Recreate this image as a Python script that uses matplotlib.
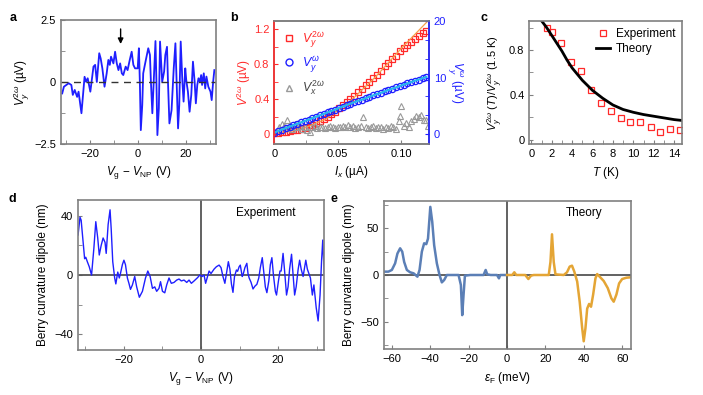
import matplotlib.pyplot as plt
from matplotlib.ticker import MultipleLocator

plt.rcParams['font.family'] = ['Liberation Sans', 'DejaVu Sans']
plt.rcParams['mathtext.fontset'] = 'custom'
plt.rcParams['mathtext.rm'] = 'Liberation Sans'
plt.rcParams['mathtext.it'] = 'Liberation Sans:italic'
plt.rcParams['font.size'] = 8
plt.rcParams['xtick.direction'] = 'in'
plt.rcParams['ytick.direction'] = 'in'
plt.rcParams['xtick.major.size'] = 3
plt.rcParams['ytick.major.size'] = 3
plt.rcParams['xtick.minor.size'] = 3
plt.rcParams['ytick.minor.size'] = 3

# --- a: V_y^{2w} vs gate voltage
a_vg = [-31.5, -30.8, -28.8, -27.7, -27.1, -26.3, -25.3, -24.7, -23.5, -22.2, -21.6, -20.9,
        -19.8, -18.5, -17.8, -17.1, -16.1, -15.5, -14.8, -13.9, -13.0, -12.3, -11.7, -11.2,
        -10.2, -9.5, -8.8, -8.1, -7.4, -6.7, -6.1, -5.1, -4.3, -3.4, -2.6, -1.9, -1.2, -0.1,
        0.4, 0.8, 1.2, 1.8, 2.2, 2.6, 3.3, 4.3, 5.0, 5.4, 6.0, 6.6, 7.3, 7.7, 8.1, 8.7, 9.2,
        10.1, 10.9, 11.4, 12.1, 12.5, 13.1, 14.0, 14.9, 15.6, 16.1, 16.7, 17.2, 17.8, 18.5,
        19.0, 19.7, 20.1, 20.8, 21.5, 22.2, 22.9, 23.6, 24.1, 24.7, 25.2, 25.8, 26.3, 26.7,
        27.4, 28.0, 28.5, 29.3, 30.2, 30.7, 31.3, 31.8]
a_v = [-0.46, -0.19, -0.05, -0.12, -0.52, -0.32, -0.60, -0.39, -1.26, 0.21, 0.01, 0.15,
       -0.39, 0.62, 0.69, 0.0, 1.16, 0.95, 0.55, -0.19, 0.35, 0.89, 0.69, 1.02,
       0.75, 1.22, 0.75, 0.48, 0.75, 0.35, 0.28, 0.62, 0.48, 0.89, 1.22, 0.69, 0.55, 0.55,
       1.36, 0.01, -1.94, -0.93, 0.35, 0.55, 0.89, 1.36, 1.09, 0.01, -1.26, 0.08, 1.65, 0.01,
       -2.14, -1.06, 1.63, 0.01, 0.42, 1.09, 1.42, 0.01, -1.67, -1.13, 0.55, 1.56, 0.01,
       -1.87, -0.93, 1.63, 0.01, -0.79, 0.55, 0.08, -0.39, -1.20, -0.52, 0.82, 0.01, -0.86,
       -0.12, 0.15, 0.01, 0.28, -0.12, 0.35, -0.26, 0.22, -0.19, -0.39, -0.73, 0.01, 0.48]

# --- b: voltages vs current
b_i = [0.000, 0.003, 0.006, 0.009, 0.012, 0.015, 0.018, 0.021, 0.024, 0.027, 0.030, 0.033,
       0.036, 0.039, 0.042, 0.045, 0.048, 0.051, 0.054, 0.057, 0.060, 0.063, 0.066, 0.069,
       0.072, 0.075, 0.078, 0.081, 0.084, 0.087, 0.090, 0.093, 0.096, 0.099, 0.102, 0.105,
       0.108, 0.111, 0.114, 0.117, 0.120]
b_vy2w = [0.02, 0.02, 0.025, 0.03, 0.035, 0.045, 0.055, 0.065, 0.075, 0.09, 0.11, 0.13,
          0.15, 0.175, 0.20, 0.23, 0.26, 0.30, 0.34, 0.37, 0.40, 0.44, 0.48, 0.52,
          0.56, 0.60, 0.64, 0.68, 0.73, 0.78, 0.82, 0.86, 0.90, 0.95, 0.99, 1.02,
          1.06, 1.09, 1.12, 1.16, 1.18]
b_vyw = [0.3, 0.6, 0.85, 1.1, 1.35, 1.6, 1.85, 2.1, 2.35, 2.6, 2.85, 3.1,
         3.35, 3.6, 3.85, 4.1, 4.35, 4.65, 4.9, 5.15, 5.4, 5.65, 5.9, 6.1,
         6.35, 6.6, 6.85, 7.1, 7.3, 7.55, 7.8, 8.05, 8.25, 8.5, 8.75, 8.95,
         9.2, 9.45, 9.65, 9.9, 10.1]
b_fit_i = [0.0, 0.02, 0.04, 0.06, 0.08, 0.10, 0.122]
b_fit_v = [0.01, 0.05, 0.17, 0.38, 0.66, 0.98, 1.31]
b_tri_i = [0.004, 0.006, 0.008, 0.010, 0.012, 0.014, 0.016, 0.018, 0.020, 0.022, 0.024, 0.026,
           0.028, 0.030, 0.032, 0.034, 0.036, 0.038, 0.040, 0.042, 0.044, 0.046, 0.048, 0.050,
           0.052, 0.054, 0.056, 0.058, 0.060, 0.062, 0.064, 0.066, 0.068, 0.070, 0.072, 0.074,
           0.076, 0.078, 0.080, 0.082, 0.084, 0.086, 0.088, 0.090, 0.092, 0.094, 0.096, 0.098,
           0.099, 0.100, 0.102, 0.104, 0.106, 0.108, 0.110, 0.112, 0.114, 0.116, 0.118, 0.120, 0.121]
b_tri_v = [0.08, 0.12, 0.10, 0.17, 0.09, 0.06, 0.12, 0.08, 0.10, 0.06, 0.09, 0.05,
           0.03, 0.08, 0.10, 0.07, 0.09, 0.08, 0.07, 0.09, 0.10, 0.08, 0.07, 0.09,
           0.08, 0.10, 0.09, 0.11, 0.08, 0.10, 0.07, 0.09, 0.10, 0.20, 0.09, 0.07,
           0.08, 0.10, 0.07, 0.09, 0.08, 0.06, 0.09, 0.07, 0.10, 0.08, 0.06, 0.15,
           0.21, 0.33, 0.10, 0.13, 0.08, 0.15, 0.18, 0.21, 0.20, 0.22, 0.16, 0.17, 0.10]

# --- c: temperature dependence
c_t = [1.5, 2.0, 2.9, 3.9, 4.9, 5.9, 6.8, 7.8, 8.8, 9.7, 10.7, 11.7, 12.6, 13.6, 14.6]
c_exp = [1.0, 0.96, 0.86, 0.69, 0.61, 0.44, 0.33, 0.26, 0.19, 0.16, 0.16, 0.11, 0.07, 0.10, 0.09]
c_th_t = [1.0, 1.5, 2.0, 2.5, 3.0, 3.5, 4.0, 5.0, 6.0, 7.0, 8.0, 9.0, 10.0, 11.0, 12.0, 13.0, 14.0, 15.0]
c_th = [1.06, 1.0, 0.93, 0.86, 0.79, 0.71, 0.64, 0.53, 0.44, 0.37, 0.31, 0.27, 0.245, 0.225,
        0.21, 0.195, 0.18, 0.17]

# --- d: experimental Berry curvature dipole
d_vg = [-31.9, -31.4, -31.1, -30.5, -30.2, -29.9, -29.5, -29.0, -28.4, -27.8, -27.3, -26.8,
        -26.4, -25.9, -25.4, -24.9, -24.6, -24.1, -23.6, -23.3, -22.9, -22.4, -22.1, -21.6,
        -21.2, -20.9, -20.4, -20.0, -19.6, -19.1, -18.7, -18.3, -17.8, -17.2, -16.7, -16.0,
        -15.2, -14.4, -13.8, -13.2, -12.6, -12.0, -11.5, -10.9, -10.5, -10.0, -9.4, -8.9,
        -8.3, -7.7, -7.0, -6.3, -5.7, -5.1, -4.4, -3.7, -3.1, -2.5, -1.8, -0.9, -0.3,
        0.3, 0.8, 1.2, 1.6, 2.1, 2.6, 3.4, 4.0, 4.7, 5.2, 5.7, 6.2, 6.6, 7.1, 7.5, 7.9,
        8.3, 8.7, 9.2, 9.5, 9.9, 10.2, 10.7, 10.9, 11.4, 11.9, 12.2, 12.5, 13.0, 13.5,
        14.0, 14.5, 15.0, 15.4, 15.9, 16.3, 16.7, 17.1, 17.6, 18.0, 18.4, 18.8, 19.3, 19.6,
        20.1, 20.5, 20.8, 21.3, 21.7, 22.2, 22.6, 23.0, 23.5, 23.9, 24.3, 24.7, 25.2, 25.6,
        26.0, 26.5, 26.8, 27.2, 27.6, 28.0, 28.4, 28.9, 29.3, 29.9, 30.4, 30.9, 31.3, 31.6, 32.0]
d_bcd = [27, 39, 37, 20, 11, 12, 9, 5.6, 0, 18, 36, 25,
         13.5, 20, 25, 22, 14.6, 34, 44, 31, 9, -2, -6, 2,
         -2, 1, 7, 10, 7, -2, -5.6, -9.7, -6.7, -1, -7.9, -15,
         -11, -2, 2.7, -1, -9, -8, -11, -9, -4.5, -11, -12, -6.7,
         -2, -5.6, -5, -3.4, -2.7, -4, -3.4, -5, -3.4, -5.6, -4, -1.8, 0,
         -1, 0, -5.6, -2, 2.7, 1, 4, 5.6, 6.7, 5, -1, -5.6, 1, 9, 4, -6,
         -11.7, -1, 3.4, 2.5, 5.6, 6.7, -1, 0, 5, 7.9, 1, -2, -5, -9.4,
         -7.5, -6.3, -2, 5, 11.7, 2, -8, -11.9, -4, 7, 11.7, 0, -11, -13.5,
         -4, 2.7, 2.7, 14.6, 2.7, -13.5, -8, 4, 14, 0, -13.5, -8, 3.6, 10,
         4, -1, 3.6, 10, 4, 1, -2, -13.5, -6.7, -22, -31, -13.5, 10, 23.6, 0]

# --- e: theoretical Berry curvature dipole
e_neg_ef = [-63.9, -61.7, -59.9, -58.2, -57.0, -55.6, -54.5, -53.5, -52.1, -50.4, -48.6, -46.6,
            -45.5, -44.3, -43.1, -42.0, -41.1, -39.9, -38.9, -37.9, -36.5, -35.1, -33.9, -32.7,
            -31.3, -27.8, -25.2, -24.0, -23.3, -22.6, -21.9, -19.1, -12.2, -11.1, -10.3, -8.5,
            -5.2, -4.2, -3.5, -0.9, 0.0]
e_neg_bcd = [3.6, 3.6, 5.4, 12.5, 23, 28.6, 25, 14, 5.4, 2.9, 1.8, -1.8,
             5.4, 25, 34, 33, 39, 73, 57, 32, 12.5, 0, -7.9, -5.4,
             0, 0, 0, -10.7, -43, -21, -0.7, 0, 0, 5.4, 0.7, 0,
             0, -3.6, 0, 0, 0]
e_pos_ef = [0.0, 2.7, 3.8, 4.8, 9.5, 11.1, 12.5, 13.9, 21.7, 22.6, 23.4, 24.3, 25.2, 29.5,
            31.2, 32.6, 33.8, 35.0, 36.5, 37.8, 39.1, 39.9, 40.8, 41.7, 42.7, 43.7, 44.8,
            46.0, 46.9, 48.2, 50.3, 52.4, 54.3, 55.5, 56.9, 58.3, 59.9, 62.1, 64.2]
e_pos_bcd = [0, 0, 2.9, 0, 0, -4.3, -0.7, 0, 0, 14, 43.6, 14, 0.7, 0,
             2.9, 9, 10, 3.6, -7, -28.6, -57, -71, -57, -36, -31, -34, -21,
             -3.6, 1, -1.8, -6.4, -14, -25, -28.6, -21, -9, -4.3, -2.9, -2.5]

grey = '#808080'
red = '#ff2a2a'
blue = '#1f1fff'

fig = plt.figure(figsize=(7.03, 3.95), dpi=100)

def frame(ax, color=grey):
    for s in ax.spines.values():
        s.set_color(color)
        s.set_linewidth(1.2)
    ax.tick_params(which='both', color=grey)

# panel a
ax_a = fig.add_axes([0.0868, 0.6354, 0.2205, 0.314])
ax_a.plot(a_vg, a_v, color=blue, lw=1.3)
ax_a.axhline(0, color='#333333', lw=1, ls=(0, (5, 4)))
ax_a.annotate('', xy=(-7.2, 1.42), xytext=(-7.2, 2.25),
              arrowprops=dict(arrowstyle='-|>', color='black', lw=1, mutation_scale=8))
ax_a.set_xlim(-32, 32.5)
ax_a.set_ylim(-2.5, 2.5)
ax_a.xaxis.set_major_locator(MultipleLocator(20))
ax_a.xaxis.set_minor_locator(MultipleLocator(10))
ax_a.set_yticks([-2.5, 0, 2.5])
ax_a.set_yticklabels(['−2.5', '0', '2.5'])
ax_a.yaxis.set_minor_locator(MultipleLocator(1.25))
ax_a.set_xlabel(r'$V_\mathrm{g}$ − $V_\mathrm{NP}$ (V)', fontsize=8.5)
ax_a.set_ylabel(r'$V_y^{2\omega}$ (µV)', fontsize=8.5, labelpad=2)
frame(ax_a)

# panel b
ax_b = fig.add_axes([0.3902, 0.6354, 0.220, 0.3122])
ax_b2 = ax_b.twinx()
ax_b.plot(b_i, b_vy2w, 's', ms=4.5, mfc='none', mec=red, mew=0.9)
ax_b.plot(b_fit_i, b_fit_v, color='#f5a04a', lw=0.9)
ax_b.plot(b_tri_i, b_tri_v, '^', ms=4.5, mfc='none', mec='#999999', mew=0.8)
ax_b2.plot(b_i, b_vyw, 'o', ms=4.5, mfc='none', mec=blue, mew=0.9)
ax_b2.plot(b_i, b_vyw, color='#29b5ee', lw=1.6)
ax_b.set_xlim(0, 0.122)
ax_b.set_ylim(-0.11, 1.3)
ax_b2.set_ylim(-1.7, 20)
ax_b.set_xticks([0, 0.05, 0.1])
ax_b.set_xticklabels(['0', '0.05', '0.10'])
ax_b.xaxis.set_minor_locator(MultipleLocator(0.025))
ax_b.set_yticks([0, 0.4, 0.8, 1.2])
ax_b.set_yticklabels(['0', '0.4', '0.8', '1.2'])
ax_b.yaxis.set_minor_locator(MultipleLocator(0.2))
ax_b2.set_yticks([0, 10, 20])
ax_b2.yaxis.set_minor_locator(MultipleLocator(10 / 3))
for s in list(ax_b.spines.values()) + list(ax_b2.spines.values()):
    s.set_color(grey)
    s.set_linewidth(1.2)
ax_b2.spines['left'].set_color(red)
ax_b2.spines['right'].set_color(blue)
ax_b.tick_params(axis='x', which='both', color=grey)
ax_b.tick_params(axis='y', which='both', color=red, labelcolor=red)
ax_b2.tick_params(axis='y', which='both', color=blue, labelcolor=blue)
ax_b.set_xlabel(r'$I_x$ (µA)', fontsize=8.5)
ax_b.set_ylabel(r'$V^{2\omega}$ (µV)', color=red, fontsize=8.5, labelpad=1)
ax_b2.set_ylabel(r'$V_y^{\omega}$ (µV)', color=blue, fontsize=8.5, rotation=270, labelpad=14)
hb = [
    plt.Line2D([], [], ls='none', marker='s', ms=5, mfc='none', mec=red, mew=1),
    plt.Line2D([], [], ls='none', marker='o', ms=5, mfc='none', mec=blue, mew=1),
    plt.Line2D([], [], ls='none', marker='^', ms=5, mfc='none', mec='#999999', mew=1),
]
leg = ax_b.legend(hb, [r'$V_y^{2\omega}$', r'$V_y^{\omega}$', r'$V_x^{2\omega}$'],
                  loc='upper left', frameon=False, fontsize=9, handlelength=1,
                  handletextpad=0.5, labelspacing=0.35, borderaxespad=0.3)
for t, col in zip(leg.get_texts(), [red, blue, '#444444']):
    t.set_color(col)

# panel c
ax_c = fig.add_axes([0.7529, 0.6347, 0.2176, 0.3127])
ax_c.plot(c_t, c_exp, 's', ms=5, mfc='none', mec=red, mew=0.9, label='Experiment')
ax_c.plot(c_th_t, c_th, color='black', lw=2, label='Theory')
ax_c.set_xlim(-0.2, 14.8)
ax_c.set_ylim(-0.04, 1.06)
ax_c.xaxis.set_major_locator(MultipleLocator(2))
ax_c.xaxis.set_minor_locator(MultipleLocator(1))
ax_c.set_yticks([0, 0.4, 0.8])
ax_c.set_yticklabels(['0', '0.4', '0.8'])
ax_c.yaxis.set_minor_locator(MultipleLocator(0.2))
ax_c.set_xlabel(r'$T$ (K)', fontsize=8.5)
ax_c.set_ylabel(r'$V_y^{2\omega}$ ($T$)/$V_y^{2\omega}$ (1.5 K)', fontsize=8, labelpad=3)
ax_c.legend(loc='upper right', frameon=False, fontsize=8.5, handlelength=1.2,
            handletextpad=0.5, labelspacing=0.3, borderaxespad=0.2)
frame(ax_c)

# panel d
ax_d = fig.add_axes([0.1105, 0.1139, 0.3508, 0.3797])
ax_d.axhline(0, color='#555555', lw=1.3)
ax_d.axvline(0, color='#555555', lw=1.3)
ax_d.plot(d_vg, d_bcd, color=blue, lw=1.0)
ax_d.set_xlim(-32, 32)
ax_d.set_ylim(-50.6, 50.6)
ax_d.xaxis.set_major_locator(MultipleLocator(20))
ax_d.xaxis.set_minor_locator(MultipleLocator(10))
ax_d.set_yticks([-40, 0, 40])
ax_d.set_yticklabels(['−40', '0', '40'])
ax_d.yaxis.set_minor_locator(MultipleLocator(20))
ax_d.set_xlabel(r'$V_\mathrm{g}$ − $V_\mathrm{NP}$ (V)', fontsize=8.5)
ax_d.set_ylabel('Berry curvature dipole (nm)', fontsize=8.5)
ax_d.text(16.8, 41.8, 'Experiment', ha='center', va='center', fontsize=8.5)
frame(ax_d)

# panel e
ax_e = fig.add_axes([0.5462, 0.1157, 0.3514, 0.3762])
ax_e.axhline(0, color='#555555', lw=1.3)
ax_e.axvline(0, color='#555555', lw=1.3)
ax_e.plot(e_neg_ef, e_neg_bcd, color='#5b7fb6', lw=1.8)
ax_e.plot(e_pos_ef, e_pos_bcd, color='#e4a535', lw=1.8)
ax_e.set_xlim(-64, 64.5)
ax_e.set_ylim(-79.6, 79.6)
ax_e.xaxis.set_major_locator(MultipleLocator(20))
ax_e.set_yticks([-50, 0, 50])
ax_e.set_yticklabels(['−50', '0', '50'])
ax_e.yaxis.set_minor_locator(MultipleLocator(25))
ax_e.set_xlabel(r'$\varepsilon_\mathrm{F}$ (meV)', fontsize=8.5)
ax_e.set_ylabel('Berry curvature dipole (nm)', fontsize=8.5)
ax_e.text(40.3, 66, 'Theory', ha='center', va='center', fontsize=8.5)
frame(ax_e)

for lab, x, y in [('a', 0.014, 0.955), ('b', 0.328, 0.955), ('c', 0.683, 0.955),
                  ('d', 0.012, 0.497), ('e', 0.470, 0.497)]:
    fig.text(x, y, lab, fontsize=9, fontweight='bold', ha='left', va='center')

fig.savefig('out.png', dpi=100)
